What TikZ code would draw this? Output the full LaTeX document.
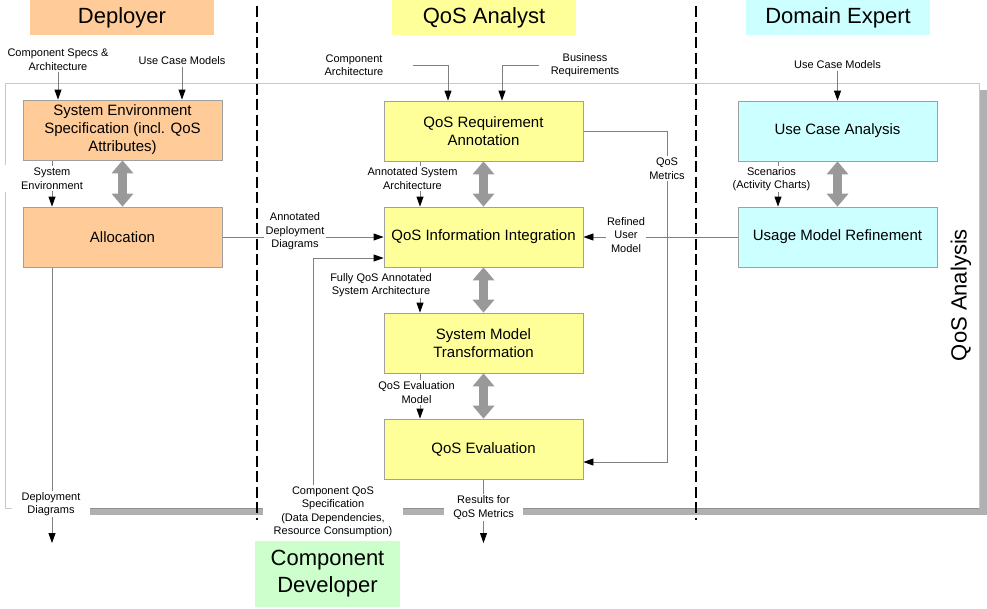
\documentclass[tikz,border=0pt]{standalone}
\usepackage{fontspec}
\setmainfont{Liberation Sans}
\usetikzlibrary{arrows.meta,calc}
\definecolor{orangebox}{HTML}{FFCC99}
\definecolor{yellowbox}{HTML}{FFFF99}
\definecolor{cyanbox}{HTML}{CCFFFF}
\definecolor{greenbox}{HTML}{CCFFCC}
\definecolor{boxborder}{HTML}{A0A0A0}
\definecolor{connline}{HTML}{808080}
\definecolor{bigarrow}{HTML}{999999}
\definecolor{shadowgray}{HTML}{B0B0B0}
\definecolor{framegray}{HTML}{C8C8C8}
\definecolor{baredge}{HTML}{909090}
\pgfdeclarelayer{bglayer}
\pgfdeclarelayer{linelayer}
\pgfsetlayers{bglayer,linelayer,main}
\begin{document}
\begin{tikzpicture}[x=1pt,y=-1pt,
 proc/.style={draw=boxborder, line width=0.8pt, minimum width=199pt, minimum height=60pt, inner sep=0pt, align=center, font=\fontsize{15}{18}\selectfont},
 role/.style={minimum width=184pt, minimum height=35pt, inner sep=0pt, align=center, font=\fontsize{22}{27}\selectfont},
 lbl/.style={fill=white, inner sep=1.5pt, align=center, font=\fontsize{11}{13.5}\selectfont},
 toplbl/.style={inner sep=1.5pt, align=center, font=\fontsize{11}{13.5}\selectfont},
 conn/.style={draw=connline, line width=0.8pt, -{Triangle[length=10pt,width=7pt,color=black,fill=black]}},
 dbl/.style={draw=bigarrow, line width=9pt, {Triangle[length=13pt,width=22pt,line width=0pt]}-{Triangle[length=13pt,width=22pt,line width=0pt]}},
 lane/.style={line width=2pt, dash pattern=on 11pt off 4.5pt},
]
\useasboundingbox (0,0) rectangle (987,608);

% frame
\begin{pgfonlayer}{bglayer}
\fill[white] (0,0) rectangle (987,608);
\fill[shadowgray] (979,90) rectangle (987,515);
\draw[framegray, line width=1pt] (5,165) -- (5,83) -- (979,83) -- (979,508);
\draw[framegray, line width=1pt] (5,192) -- (5,508) -- (12,508);
\fill[shadowgray] (90,508) rectangle (263,515);
\fill[shadowgray] (403,508) rectangle (444,515);
\fill[shadowgray] (523,508) rectangle (987,515);
\draw[baredge, line width=1pt] (90,508) -- (263,508) (403,508) -- (444,508) (523,508) -- (979,508);
\end{pgfonlayer}

% role titles
\node[role, fill=orangebox] (tdep) at (122,17.5) {Deployer};
\node[role, fill=yellowbox] (tqa) at (484,17.5) {QoS Analyst};
\node[role, fill=cyanbox] (tde) at (838,17.5) {Domain Expert};
\node[role, fill=greenbox, minimum width=145pt, minimum height=66pt] (tcd) at (327.5,574) {Component\\Developer};
\node[rotate=90, inner sep=0pt, font=\fontsize{22}{26}\selectfont] (qosan) at (961,295) {QoS Analysis};

% process boxes
\node[proc, fill=orangebox] (ses) at (122.5,130) {System Environment\\Specification (incl. QoS\\Attributes)};
\node[proc, fill=orangebox] (alloc) at (122.5,237) {Allocation};
\node[proc, fill=yellowbox] (qra) at (483.5,131) {QoS Requirement\\Annotation};
\node[proc, fill=yellowbox] (qii) at (483.5,237) {QoS Information Integration};
\node[proc, fill=yellowbox] (smt) at (483.5,343) {System Model\\Transformation};
\node[proc, fill=yellowbox] (qe) at (483.5,449) {QoS Evaluation};
\node[proc, fill=cyanbox] (uca) at (837.5,131) {Use Case Analysis};
\node[proc, fill=cyanbox] (umr) at (837.5,237) {Usage Model Refinement};

% labels
\node[toplbl] (cspec) at (58,59.5) {Component Specs \&\\Architecture};
\node[toplbl] (ucm1) at (182,61) {Use Case Models};
\node[lbl] (senv) at (52,178.5) {System\\Environment};
\node[lbl] (adep) at (295,231.5) {Annotated\\Deployment\\Diagrams};
\node[lbl] (ddia) at (51,504) {Deployment\\Diagrams};
\node[toplbl] (carch) at (354,65) {Component\\Architecture};
\node[toplbl] (breq) at (585,65) {Business\\Requirements};
\node[lbl] (asa) at (412.5,178.5) {Annotated System\\Architecture};
\node[lbl] (qmet) at (667,168.5) {QoS\\Metrics};
\node[lbl] (rum) at (626,235) {Refined\\User\\Model};
\node[lbl] (fqa) at (381,285) {Fully QoS Annotated\\System Architecture};
\node[lbl] (qem) at (416.5,392.5) {QoS Evaluation\\Model};
\node[lbl] (cqs) at (333,512) {Component QoS\\Specification\\(Data Dependencies,\\Resource Consumption)};
\node[lbl] (rqm) at (483.5,507.5) {Results for\\QoS Metrics};
\node[toplbl] (ucm2) at (837.5,65) {Use Case Models};
\node[lbl] (scen) at (771.5,179) {Scenarios\\(Activity Charts)};
\coordinate (ddend) at (52,543);
\coordinate (rqend) at (483.5,543);

% connectors
\begin{pgfonlayer}{linelayer}
\draw[conn] (cspec) -- (cspec |- ses.north);
\draw[conn] (ucm1) -- (ucm1 |- ses.north);
\draw[conn] (ses.south -| senv) -- (alloc.north -| senv);
\draw[conn] (alloc) -- (qii);
\draw[conn] (alloc.south -| ddend) -- (ddend);
\draw[conn] ([xshift=28pt]carch.east) -| ([xshift=-35.5pt]qra.north);
\draw[conn] ([xshift=-10pt]breq.west) -| ([xshift=18.5pt]qra.north);
\draw[conn] ([xshift=-63.5pt]qra.south) -- ([xshift=-63.5pt]qii.north);
\draw[conn] (qra.east) -| (qmet) |- ([yshift=-13pt]qe.east);
\draw[conn] (umr) -- (qii);
\draw[conn] ([xshift=-63.5pt]qii.south) -- ([xshift=-63.5pt]smt.north);
\draw[conn] ([xshift=-63.5pt]smt.south) -- ([xshift=-63.5pt]qe.north);
\draw[conn] ([xshift=-20pt]cqs.north) |- ([yshift=-21pt]qii.west);
\draw[conn] (qe) -- (rqend);
\draw[conn] (ucm2) -- (uca);
\draw[conn] ([xshift=-59.5pt]uca.south) -- ([xshift=-59.5pt]umr.north);
\end{pgfonlayer}

% grey double arrows
\draw[dbl] (ses) -- (alloc);
\draw[dbl] (qra) -- (qii);
\draw[dbl] (qii) -- (smt);
\draw[dbl] (smt) -- (qe);
\draw[dbl] (uca) -- (umr);

% lane separators
\draw[lane] (257,6) -- (257,520);
\draw[lane] (696,6) -- (696,520);
\end{tikzpicture}
\end{document}
